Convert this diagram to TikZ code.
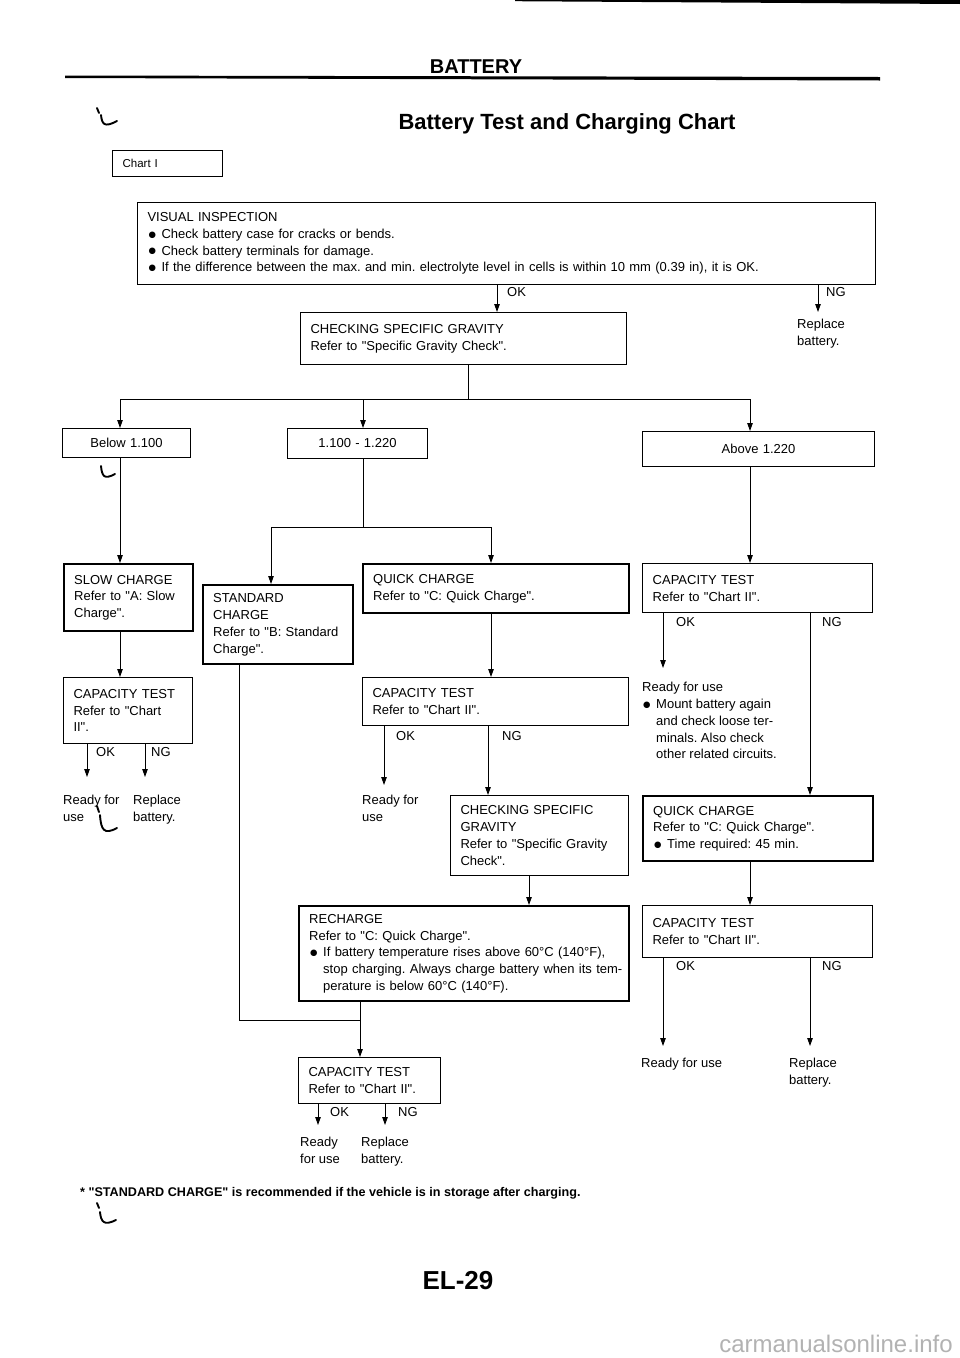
\documentclass[tikz,border=0pt]{standalone}
\usepackage{fontspec}
\setmainfont{Liberation Sans}[Ligatures=TeXOff]
\newfontfamily\dejavu{DejaVu Sans}
\usetikzlibrary{arrows.meta}
\newcommand\bul{\makebox[14pt][l]{\hspace{1pt}\raisebox{1.2pt}{\dejavu\fontsize{8.5}{10}\selectfont ●}}}
\newcommand\ind{\hspace*{14pt}}
\frenchspacing
\begin{document}
\frenchspacing
\begin{tikzpicture}[x=1pt,y=-1pt,
  every node/.style={font=\fontsize{13}{16.8}\selectfont, inner sep=0pt},
  box/.style={draw, line width=1pt, anchor=north west, inner xsep=10pt, inner ysep=2pt, align=left},
  heavybox/.style={box, line width=2.4pt},
  lbl/.style={anchor=base west},
  term/.style={anchor=north west, align=left},
  conn/.style={line width=0.9pt},
  arr/.style={line width=0.9pt, -{Triangle[length=8pt,width=5.5pt]}},
  binmark/.style={line width=1.9pt, line cap=round}]
\fill[white] (0,0) rectangle (960,1358);
\useasboundingbox (0,0) rectangle (960,1358);

% page rules and marks
\fill (515,0) -- (960,0) -- (960,4) -- (515,1.2) -- cycle;
\fill (65,75.5) -- (880,77) -- (880,80.5) -- (65,78) -- cycle;
\draw[binmark] (97,108) -- (99,113);
\draw[binmark] (101,115) .. controls (102,124) and (104,128) .. (117,121);
\draw[binmark] (101,466) .. controls (102,476) and (104,480) .. (115,474);
\draw[binmark] (97,806) -- (99,812);
\draw[binmark] (100,815) .. controls (101,830) and (104,835) .. (117,828);
\draw[binmark] (97,1203) -- (99,1208);
\draw[binmark] (100,1212) .. controls (101,1222) and (104,1226) .. (116,1220);

% headings
\node[anchor=base, font=\bfseries\fontsize{20}{24}\selectfont] (hdr) at (476,73) {BATTERY};
\node[anchor=base, font=\bfseries\fontsize{22}{26}\selectfont] (title) at (567,129) {Battery Test and Charging Chart};

% boxes
\node[box, line width=1.3pt, minimum width=110pt, minimum height=26pt, text width=90pt, font=\fontsize{11.5}{14}\selectfont] (chart) at (112,150) {Chart I};
\node[box, minimum width=738pt, minimum height=82pt, text width=718pt] (vis) at (137,202)
 {VISUAL INSPECTION\\
  \bul Check battery case for cracks or bends.\\
  \bul Check battery terminals for damage.\\
  \mbox{\bul If the difference between the max. and min. electrolyte level in cells is within 10 mm (0.39 in), it is OK.}};
\node[box, minimum width=326pt, minimum height=52pt, text width=306pt] (chk) at (300,312)
 {CHECKING SPECIFIC GRAVITY\\Refer to "Specific Gravity Check".};
\node[box, align=center, minimum width=128pt, minimum height=29pt, text width=108pt] (below) at (62,428) {Below 1.100};
\node[box, align=center, minimum width=140pt, minimum height=30pt, text width=120pt] (rmid) at (287,428) {1.100 - 1.220};
\node[box, align=center, minimum width=232pt, minimum height=35pt, text width=212pt] (above) at (642,431) {Above 1.220};

\node[heavybox, minimum width=129pt, minimum height=67pt, text width=109pt] (slow) at (63,563)
 {\mbox{SLOW CHARGE}\\\mbox{Refer to "A: Slow}\\Charge".};
\node[box, minimum width=129pt, minimum height=66pt, text width=109pt] (capL) at (63,677)
 {\mbox{CAPACITY TEST}\\\mbox{Refer to "Chart}\\II".};
\node[heavybox, minimum width=150pt, minimum height=79pt, text width=130pt] (std) at (202,584)
 {STANDARD\\CHARGE\\\mbox{Refer to "B: Standard}\\Charge".};
\node[heavybox, minimum width=266pt, minimum height=49pt, text width=246pt] (qc) at (362,563)
 {QUICK CHARGE\\Refer to "C: Quick Charge".};
\node[box, minimum width=266pt, minimum height=48pt, text width=246pt] (capM) at (362,677)
 {CAPACITY TEST\\Refer to "Chart II".};
\node[box, minimum width=178pt, minimum height=80pt, text width=158pt] (chk2) at (450,795)
 {\mbox{CHECKING SPECIFIC}\\GRAVITY\\\mbox{Refer to "Specific Gravity}\\Check".};
\node[heavybox, minimum width=330pt, minimum height=95pt, text width=310pt] (rech) at (298,905)
 {RECHARGE\\Refer to "C: Quick Charge".\\
  \mbox{\bul If battery temperature rises above 60°C (140°F),}\\
  \mbox{\ind stop charging. Always charge battery when its tem-}\\
  \mbox{\ind perature is below 60°C (140°F).}};
\node[box, minimum width=142pt, minimum height=46pt, text width=122pt] (capB) at (298,1057)
 {CAPACITY TEST\\\mbox{Refer to "Chart II".}};
\node[box, line width=1.4pt, minimum width=230pt, minimum height=49pt, text width=210pt] (capR) at (642,563)
 {CAPACITY TEST\\Refer to "Chart II".};
\node[heavybox, minimum width=230pt, minimum height=65pt, text width=210pt] (qcR) at (642,795)
 {QUICK CHARGE\\Refer to "C: Quick Charge".\\\bul Time required: 45 min.};
\node[box, minimum width=230pt, minimum height=52pt, text width=210pt] (capR2) at (642,905)
 {CAPACITY TEST\\Refer to "Chart II".};

% terminal texts
\node[term] (rep1) at (797,319) {Replace\\battery.};
\node[term] (rdyL) at (63,795) {Ready for\\use};
\node[term] (repL) at (133,795) {Replace\\battery.};
\node[term] (rdyM) at (362,795) {Ready for\\use};
\node[term] (rdyR) at (642,682) {Ready for use\\\bul Mount battery again\\\ind and check loose ter-\\\ind minals. Also check\\\ind other related circuits.};
\node[term] (rdyB) at (300,1137) {Ready\\for use};
\node[term] (repB) at (361,1137) {Replace\\battery.};
\node[term] (rdyR2) at (641,1058) {Ready for use};
\node[term] (repR2) at (789,1058) {Replace\\battery.};

% OK / NG labels
\node[lbl] (lok1) at (507,296.5) {OK};
\node[lbl] (lng1) at (826,296.5) {NG};
\node[lbl] (lokL) at (96,756.5) {OK};
\node[lbl] (lngL) at (151,756.5) {NG};
\node[lbl] (lokM) at (396,740.5) {OK};
\node[lbl] (lngM) at (502,740.5) {NG};
\node[lbl] (lokB) at (330,1116.5) {OK};
\node[lbl] (lngB) at (398,1116.5) {NG};
\node[lbl] (lokR) at (676,626.5) {OK};
\node[lbl] (lngR) at (822,626.5) {NG};
\node[lbl] (lokR2) at (676,970.5) {OK};
\node[lbl] (lngR2) at (822,970.5) {NG};

% coordinates
\coordinate (pOK1) at (497,0);
\coordinate (pNG1) at (818,312);
\coordinate (xa) at (120,399);
\coordinate (xb) at (363,399);
\coordinate (xc) at (750,399);
\coordinate (eOKL) at (87,777);
\coordinate (eNGL) at (145,777);
\coordinate (sq) at (271,527);
\coordinate (sr) at (491,527);
\coordinate (eOKM) at (384,785);
\coordinate (pNGM) at (488,0);
\coordinate (pc2) at (529,0);
\coordinate (xe) at (360,1020);
\coordinate (sx) at (239,0);
\coordinate (pchk) at (468,0);
\coordinate (eOKB) at (318,1125);
\coordinate (eNGB) at (385,1125);
\coordinate (eOKR) at (663,668);
\coordinate (pNGR) at (810,0);
\coordinate (eOKR2) at (663,1046);
\coordinate (eNGR2) at (810,1046);

% connectors
\draw[arr] (vis.south -| pOK1) -- (chk.north -| pOK1);
\draw[arr] (vis.south -| pNG1) -- (pNG1);
\draw[conn] (chk.south -| pchk) -- (pchk |- xa);
\draw[conn] (xa) -- (xc);
\draw[arr] (xa) -- (below.north -| xa);
\draw[arr] (xb) -- (rmid.north -| xb);
\draw[arr] (xc) -- (above.north -| xc);
\draw[arr] (below.south -| xa) -- (slow.north -| xa);
\draw[arr] (slow.south -| xa) -- (capL.north -| xa);
\draw[arr] (capL.south -| eOKL) -- (eOKL);
\draw[arr] (capL.south -| eNGL) -- (eNGL);
\draw[conn] (rmid.south -| xb) -- (xb |- sq);
\draw[conn] (sq) -- (sr);
\draw[arr] (sq) -- (std.north -| sq);
\draw[arr] (sr) -- (qc.north -| sr);
\draw[arr] (qc.south -| sr) -- (capM.north -| sr);
\draw[arr] (capM.south -| eOKM) -- (eOKM);
\draw[arr] (capM.south -| pNGM) -- (chk2.north -| pNGM);
\draw[arr] (chk2.south -| pc2) -- (rech.north -| pc2);
\draw[conn] (std.south -| sx) -- (sx |- xe) -- (xe);
\draw[arr] (rech.south -| xe) -- (capB.north -| xe);
\draw[arr] (capB.south -| eOKB) -- (eOKB);
\draw[arr] (capB.south -| eNGB) -- (eNGB);
\draw[arr] (above.south -| xc) -- (capR.north -| xc);
\draw[arr] (capR.south -| eOKR) -- (eOKR);
\draw[arr] (capR.south -| pNGR) -- (qcR.north -| pNGR);
\draw[arr] (qcR.south -| xc) -- (capR2.north -| xc);
\draw[arr] (capR2.south -| eOKR2) -- (eOKR2);
\draw[arr] (capR2.south -| eNGR2) -- (eNGR2);

% footer
\node[anchor=base west, font=\bfseries\fontsize{12.6}{14}\selectfont] (foot) at (80,1196)
 {* "STANDARD CHARGE" is recommended if the vehicle is in storage after charging.};
\node[anchor=base, font=\bfseries\fontsize{26}{30}\selectfont] (page) at (458,1289) {EL-29};
\node[anchor=base, text=black!30, font=\fontsize{24}{28}\selectfont] (wm) at (836,1352) {carmanualsonline.info};
\end{tikzpicture}
\end{document}
